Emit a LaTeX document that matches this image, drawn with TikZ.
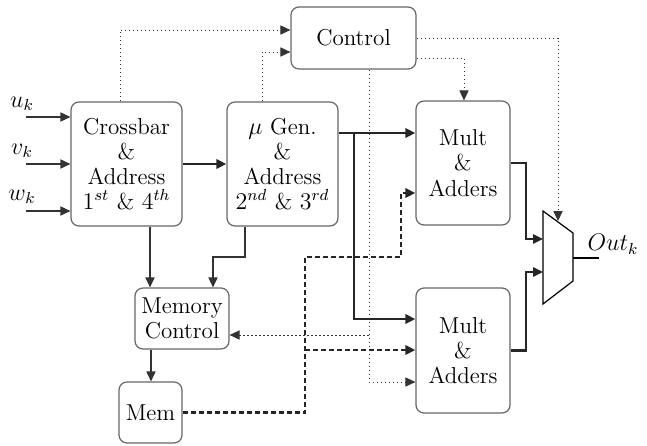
\documentclass[tikz,border=0pt]{standalone}
\usetikzlibrary{arrows.meta,calc}
\begin{document}
\begin{tikzpicture}[x=0.5pt,y=-0.5pt,
  blockbox/.style={draw=black!60,line width=0.6pt,rounded corners=4pt,align=center,
    inner sep=0pt,font=\fontsize{11.5}{12.6}\selectfont},
  tip/.style={-{Triangle[length=5pt,width=4.6pt]}},
  thinline/.style={draw=black!80,line width=0.6pt},
  thickline/.style={draw=black!85,line width=1.2pt},
  dotline/.style={draw=black!80,line width=0.5pt,dash pattern=on 0.9pt off 1.1pt},
  dashline/.style={draw=black!85,line width=1.2pt,dash pattern=on 2.6pt off 1.4pt},
  lbl/.style={inner sep=0pt,font=\fontsize{11.5}{12.6}\selectfont}]
\useasboundingbox (0,0) rectangle (647,445);

% blocks
\node[blockbox,minimum width=55.5pt,minimum height=62pt] (cb) at (126.5,164)
  {Crossbar\\\&\\Address\\$1^{st}$ \& $4^{th}$};
\node[blockbox,minimum width=55.5pt,minimum height=62pt] (mu) at (282.5,164)
  {$\mu$ Gen.\\\&\\Address\\$2^{nd}$ \& $3^{rd}$};
\node[blockbox,minimum width=62.5pt,minimum height=31pt] (ctrl) at (353.5,38) {Control};
\node[blockbox,minimum width=47pt,minimum height=62pt] (m1) at (463,163) {Mult\\\&\\Adders};
\node[blockbox,minimum width=47pt,minimum height=62.5pt] (m2) at (463,350.5) {Mult\\\&\\Adders};
\node[blockbox,minimum width=47pt,minimum height=30.5pt] (mc) at (182,318.5) {Memory\\Control};
\node[blockbox,minimum width=31.5pt,minimum height=30.5pt] (mem) at (150.5,412.5) {Mem};

% output multiplexer
\coordinate (mxa) at (543,211);
\coordinate (mxb) at (573,233);
\coordinate (mxc) at (573,281);
\coordinate (mxd) at (543,304);
\draw[line width=0.6pt] (mxa) -- (mxb) -- (mxc) -- (mxd) -- cycle;
\coordinate (mxtop) at (558,221);
\coordinate (mxin1) at (543,239);
\coordinate (mxin2) at (543,272);
\coordinate (mxout) at (573,258);
\coordinate (outend) at (599,258);
\draw[line width=0.6pt] (mxout) -- (outend);
\node[lbl] (outlbl) at (613,244) {$Out_k$};

% inputs
\node[lbl] (ulbl) at (22,104) {$u_k$};
\node[lbl] (vlbl) at (22,151) {$v_k$};
\node[lbl] (wlbl) at (22,197) {$w_k$};
\coordinate (uin) at (26,117);
\coordinate (vin) at (26,164);
\coordinate (win) at (26,211);
\draw[thinline,tip] (uin) -- (uin -| cb.west);
\draw[thinline,tip] (vin) -- (vin -| cb.west);
\draw[thinline,tip] (win) -- (win -| cb.west);

% data path
\draw[thickline,tip] (cb.east) -- (mu.west);
\coordinate (c7) at (354,133);
\coordinate (c8) at (354,319);
\draw[thickline,tip] (c7 -| mu.east) -- (c7 -| m1.west);
\draw[thickline,tip] (c7) -- (c8) -- (c8 -| m2.west);
\coordinate (e1) at (526,239);
\coordinate (e2) at (526,272);
\draw[thickline,tip] (m1.east) -- (m1.east -| e1) -- (e1) -- (mxin1);
\draw[thickline,tip] (m2.east) -- (m2.east -| e2) -- (e2) -- (mxin2);

% memory path
\coordinate (d1) at (305,257);
\coordinate (d2) at (401,193);
\coordinate (d3) at (305,350);
\draw[dashline,tip] (mem.east) -- (mem.east -| d1) -- (d1) -- (d1 -| d2) -- (d2) -- (d2 -| m1.west);
\draw[dashline,tip] (d3) -- (d3 -| m2.west);

% address lines to memory control
\coordinate (f1) at (150,250);
\coordinate (f2) at (245,257);
\coordinate (f3) at (213,257);
\coordinate (f4) at (151,365);
\draw[thinline,tip] (f1 |- cb.south) -- (f1 |- mc.north);
\draw[thinline,tip] (f2 |- mu.south) -- (f2) -- (f3) -- (f3 |- mc.north);
\draw[thinline,tip] (f4 |- mc.south) -- (f4 |- mem.north);

% control signals
\coordinate (c1) at (120,30);
\coordinate (c2) at (262,52);
\coordinate (c3) at (558,38);
\coordinate (c4) at (464,58);
\coordinate (c5) at (369,382);
\coordinate (c6) at (369,335);
\draw[dotline,tip] (c1 |- cb.north) -- (c1) -- (c1 -| ctrl.west);
\draw[dotline,tip] (c2 |- mu.north) -- (c2) -- (c2 -| ctrl.west);
\draw[dotline,tip] (c3 -| ctrl.east) -- (c3) -- (mxtop);
\draw[dotline,tip] (c4 -| ctrl.east) -- (c4) -- (c4 |- m1.north);
\draw[dotline,tip] (c5 |- ctrl.south) -- (c5) -- (c5 -| m2.west);
\draw[dotline,tip] (c6) -- (c6 -| mc.east);
\end{tikzpicture}
\end{document}
